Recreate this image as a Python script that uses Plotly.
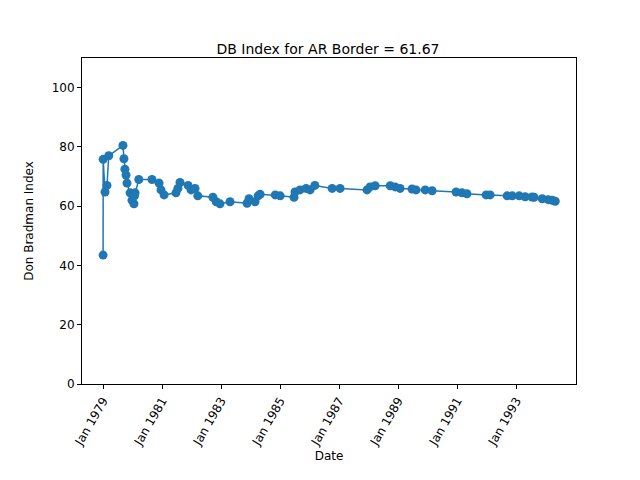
import plotly.graph_objects as go

dates = ["1979-01-01","1979-01-02","1979-01-25","1979-02-18","1979-03-12","1979-09-04","1979-09-16","1979-09-28",
"1979-10-12","1979-10-24","1979-12-01","1979-12-25","1980-01-18","1980-02-01","1980-01-25","1980-03-18","1980-08-28",
"1980-11-24","1980-12-18","1981-01-25","1981-06-21","1981-07-15","1981-08-10","1981-11-18","1981-12-25","1982-02-12",
"1982-03-18","1982-09-21","1982-11-01","1982-12-18","1983-04-21","1983-11-18","1983-12-12","1984-02-25","1984-04-03",
"1984-04-28","1984-11-01","1985-01-01","1985-06-21","1985-07-03","1985-09-03","1985-11-18","1986-01-06","1986-03-06",
"1986-10-06","1987-01-12","1987-12-12","1988-01-18","1988-03-21","1988-09-24","1988-11-24","1989-01-24","1989-06-21",
"1989-08-09","1989-12-01","1990-02-24","1990-12-18","1991-03-01","1991-05-01","1991-12-25","1992-02-12","1992-09-10",
"1992-11-12","1993-02-06","1993-04-21","1993-07-15","1993-08-09","1993-11-18","1994-02-01","1994-03-21","1994-04-28"]
values = [43.5,75.8,64.8,67.0,77.0,80.5,76.0,72.5,70.5,67.8,64.5,62.0,60.8,64.5,63.5,69.0,69.0,67.8,65.5,63.8,64.5,66.0,68.0,
67.0,65.5,66.0,63.5,63.0,61.5,60.8,61.5,61.0,62.5,61.5,63.5,64.0,63.8,63.5,63.0,64.8,65.5,66.0,65.5,67.0,66.0,66.0,
65.5,66.5,66.9,66.9,66.5,66.0,65.8,65.5,65.5,65.2,64.8,64.5,64.2,63.8,63.8,63.5,63.5,63.5,63.2,63.1,63.0,62.5,62.2,62.0,61.67]
tick_vals = ["1979-01-01","1981-01-01","1983-01-01","1985-01-01","1987-01-01","1989-01-01","1991-01-01","1993-01-01"]
tick_text = ["Jan 1979","Jan 1981","Jan 1983","Jan 1985","Jan 1987","Jan 1989","Jan 1991","Jan 1993"]

fig = go.Figure(go.Scatter(x=dates, y=values, mode="lines+markers",
    line=dict(color="#1f77b4", width=1.5), marker=dict(color="#1f77b4", size=9)))
ax = dict(showgrid=False, zeroline=False, showline=True, mirror=True, linecolor="black",
          ticks="outside", ticklen=4, tickcolor="black", tickfont=dict(size=12, color="black"))
fig.update_layout(
    width=640, height=480, plot_bgcolor="white", paper_bgcolor="white",
    margin=dict(l=74, r=72, t=50, b=104, autoexpand=False), showlegend=False,
    font=dict(family="DejaVu Sans", color="black"),
    title=dict(text="DB Index for AR Border = 61.67", x=0.5, xanchor="center", y=0.925, font=dict(size=14)),
    xaxis=dict(ax, range=["1978-04-15","1995-01-10"], tickvals=tick_vals, ticktext=tick_text, tickangle=-60,
               automargin=False, title=dict(text="Date", font=dict(size=12), standoff=4)),
    yaxis=dict(ax, range=[0,110], tickvals=[0,20,40,60,80,100], automargin=False,
               title=dict(text="Don Bradman Index", font=dict(size=12))),
)
fig.write_html("out.html")
